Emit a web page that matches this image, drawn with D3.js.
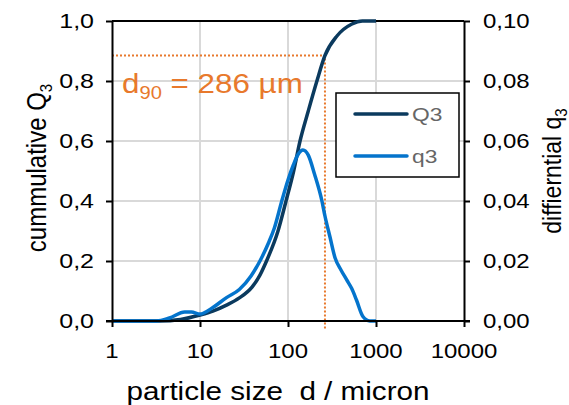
<!DOCTYPE html>
<html>
<head>
<meta charset="utf-8">
<script src="https://cdn.jsdelivr.net/npm/d3@7"></script>
<style>
  body { margin: 0; background: #fff; }
  svg text { font-family: "Liberation Sans", Arial, sans-serif; white-space: pre; }
</style>
</head>
<body>
<div class="chart"></div>
<script>
'use strict';

// particle sizes (micron) and the two distributions
var cumulativeSize = [1, 2, 3.5, 6, 10, 14, 20, 28, 39, 48, 57, 77, 95, 116, 137, 170, 213, 263, 360, 533, 700, 1000];
var cumulativeQ3 = [0, 0, 0, 0.005, 0.02, 0.033, 0.053, 0.077, 0.113, 0.153, 0.2, 0.3, 0.4, 0.5, 0.6, 0.7, 0.8, 0.885, 0.95, 0.99, 1.0, 1.0];

var densitySize = [1, 2, 3.2, 4.5, 6.7, 8, 10, 14, 20, 28, 38, 48, 60, 70, 85, 100, 115, 130, 148, 170, 200, 243, 263, 300, 343, 400, 465, 530, 600, 710, 850, 1000];
var densityQ3 = [0, 0, 0, 0.001, 0.003, 0.003, 0.0023, 0.0045, 0.0078, 0.0105, 0.015, 0.02, 0.026, 0.031, 0.04, 0.047, 0.052, 0.0555, 0.057, 0.0553, 0.049, 0.04, 0.035, 0.028, 0.021, 0.017, 0.0137, 0.0108, 0.007, 0.0015, 0, 0];

var xTicks = [1, 10, 100, 1000, 10000];
var leftTicks = [0, 0.2, 0.4, 0.6, 0.8, 1.0];
var rightTicks = [0, 0.02, 0.04, 0.06, 0.08, 0.10];

var d90Size = 263;      // where the marker line is drawn
var d90Level = 0.885;
var d90Label = '286 µm';

var legendNames = ['Q3', 'q3'];

var COLOR_Q3 = '#0b3a5e';
var COLOR_q3 = '#0474cc';
var COLOR_ORANGE = '#e8792c';
var STRETCH = 1.2; // the reference text is a bit wider than the plain font

var width = 569, height = 405;
var margin = { left: 112, right: 105, top: 21, bottom: 84 };
var plotW = width - margin.left - margin.right;
var plotH = height - margin.top - margin.bottom;

var svg = d3.select('.chart').append('svg')
  .attr('width', width)
  .attr('height', height);
var g = svg.append('g')
  .attr('transform', 'translate(' + margin.left + ',' + margin.top + ')');

var x = d3.scaleLog().domain([1, 10000]).range([0, plotW]);
var yLeft = d3.scaleLinear().domain([0, 1]).range([plotH, 0]);
var yRight = d3.scaleLinear().domain([0, 0.1]).range([plotH, 0]);

function fmt(v, digits) {
  return v.toFixed(digits).replace('.', ',');
}

// stretched text helper
function addText(parent, px, py, str, size, anchor, sx) {
  return parent.append('text')
    .attr('transform', 'translate(' + px + ',' + py + ') scale(' + (sx || STRETCH) + ',1)')
    .attr('text-anchor', anchor)
    .style('font-size', size + 'px')
    .text(str);
}

// grid
g.selectAll('line.hgrid')
  .data(leftTicks.slice(1, -1))
  .enter().append('line')
  .attr('x1', 0).attr('x2', plotW)
  .attr('y1', function(d) { return yLeft(d); })
  .attr('y2', function(d) { return yLeft(d); })
  .style('stroke', '#d9d9d9').style('stroke-width', 2);
g.selectAll('line.vgrid')
  .data(xTicks.slice(1, -1))
  .enter().append('line')
  .attr('x1', function(d) { return x(d); })
  .attr('x2', function(d) { return x(d); })
  .attr('y1', 0).attr('y2', plotH)
  .style('stroke', '#d9d9d9').style('stroke-width', 2);

// top border
g.append('line')
  .attr('x1', 0).attr('x2', plotW).attr('y1', 0).attr('y2', 0)
  .style('stroke', 'black').style('stroke-width', 2);

// d90 marker
var xd = x(d90Size), yd = yLeft(d90Level);
g.append('path')
  .attr('d', 'M0,' + yd + 'H' + xd + 'V' + (plotH + 9))
  .style('fill', 'none')
  .style('stroke', COLOR_ORANGE)
  .style('stroke-width', 2)
  .style('stroke-dasharray', '2,2');

// curves
var lineQ3 = d3.line()
  .x(function(d, i) { return x(cumulativeSize[i]); })
  .y(function(d) { return yLeft(d); })
  .curve(d3.curveMonotoneX);
var lineq3 = d3.line()
  .x(function(d, i) { return x(densitySize[i]); })
  .y(function(d) { return yRight(d); })
  .curve(d3.curveMonotoneX);

g.append('path')
  .attr('d', lineQ3(cumulativeQ3))
  .style('fill', 'none').style('stroke', COLOR_Q3).style('stroke-width', 3.5);
g.append('path')
  .attr('d', lineq3(densityQ3))
  .style('fill', 'none').style('stroke', COLOR_q3).style('stroke-width', 3.5);

// axes
var axisBottom = d3.axisBottom(x).tickValues(xTicks).tickFormat('').tickSizeInner(6).tickSizeOuter(0);
var axisLeft = d3.axisLeft(yLeft).tickValues(leftTicks).tickFormat('').tickSizeInner(6).tickSizeOuter(0);
var axisRight = d3.axisRight(yRight).tickValues(rightTicks).tickFormat('').tickSizeInner(6).tickSizeOuter(0);

var axB = g.append('g').attr('transform', 'translate(0,' + plotH + ')').call(axisBottom);
var axL = g.append('g').call(axisLeft);
var axR = g.append('g').attr('transform', 'translate(' + plotW + ',0)').call(axisRight);
[axB, axL, axR].forEach(function(ax) {
  ax.select('.domain').style('stroke', 'black').style('stroke-width', 2);
  ax.selectAll('.tick line').style('stroke', 'black').style('stroke-width', 2);
});
axB.select('.domain').attr('d', 'M-6,0H' + (plotW + 6));

// tick labels
leftTicks.forEach(function(v) {
  addText(g, -18, yLeft(v) + 7, fmt(v, 1), 20, 'end', 1.25);
});
rightTicks.forEach(function(v) {
  addText(g, plotW + 19, yRight(v) + 7, fmt(v, 2), 20, 'start');
});
xTicks.forEach(function(v) {
  addText(g, x(v), plotH + 37, String(v), 20, 'middle');
});

// axis titles
addText(svg, 278, 400, 'particle size  d / micron', 26, 'middle', 1.14);

var leftTitle = svg.append('text')
  .attr('transform', 'translate(46,168) rotate(-90) scale(1,1.15)')
  .attr('text-anchor', 'middle')
  .style('font-size', '24px');
leftTitle.append('tspan').text('cummulative Q');
leftTitle.append('tspan').attr('dy', 5).style('font-size', '15px').text('3');

var rightTitle = svg.append('text')
  .attr('transform', 'translate(561,171) rotate(-90) scale(1,1.15)')
  .attr('text-anchor', 'middle')
  .style('font-size', '23px');
rightTitle.append('tspan').text('diffierntial q');
rightTitle.append('tspan').attr('dy', 5).style('font-size', '15px').text('3');

// d90 annotation
var d90Text = g.append('text')
  .attr('transform', 'translate(10,' + (93 - margin.top) + ') scale(1.12,1)')
  .style('font-size', '28px')
  .style('fill', COLOR_ORANGE);
d90Text.append('tspan').text('d');
d90Text.append('tspan').attr('dy', 6).style('font-size', '18px').text('90');
d90Text.append('tspan').attr('dy', -6).text(' = ' + d90Label);

// legend
var legend = svg.append('g').attr('transform', 'translate(336,93)');
legend.append('rect')
  .attr('width', 123).attr('height', 84)
  .style('fill', 'white').style('stroke', 'black').style('stroke-width', 1.5);
[COLOR_Q3, COLOR_q3].forEach(function(c, i) {
  var ly = 21 + i * 42;
  legend.append('line')
    .attr('x1', 19).attr('x2', 71).attr('y1', ly).attr('y2', ly)
    .style('stroke', c).style('stroke-width', 3.5).style('stroke-linecap', 'round');
  addText(legend, 76, ly + 7, legendNames[i], 19, 'start').style('fill', '#666');
});
</script>
</body>
</html>
